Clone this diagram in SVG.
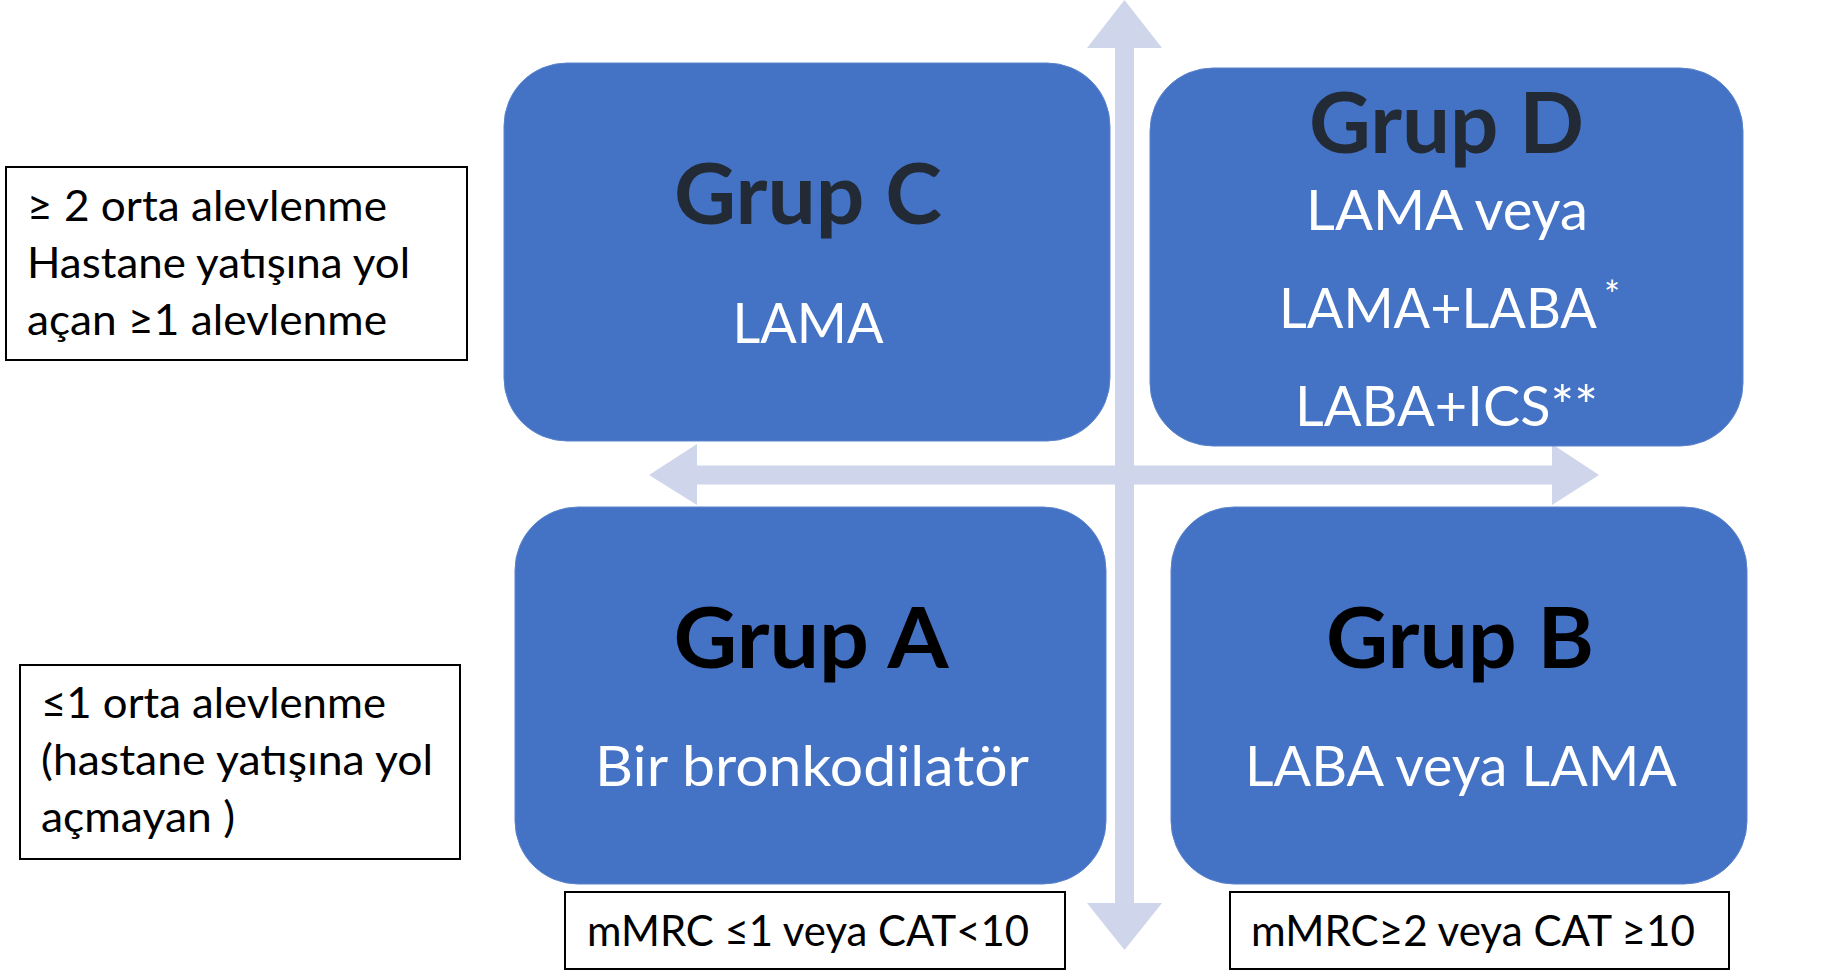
<svg xmlns="http://www.w3.org/2000/svg" width="1825" height="971" viewBox="0 0 1825 971">
<style>
.box{fill:#4472C4;stroke:#5b83cc;stroke-width:1}
.label{fill:#fff;stroke:#000;stroke-width:2}
.axis{fill:#CFD5EA}
.title{font-family:Lato,"Liberation Sans",sans-serif;font-weight:bold;font-size:85px;text-anchor:middle}
.dark{fill:#222A35}
.black{fill:#000}
.sub{font-family:Lato,"Liberation Sans",sans-serif;font-size:56px;fill:#fff;text-anchor:middle}
.small{font-family:Lato,"Liberation Sans",sans-serif;font-size:43px;fill:#000}
</style>
<rect width="1825" height="971" fill="#fff"/>
<g id="connectors">
<polygon class="axis" points="1124.5,0 1162,48 1134,48 1134,903 1162,903 1124.5,950 1087,903 1115,903 1115,48 1087,48"/>
<polygon class="axis" points="649,475 697,444 697,465.5 1552,465.5 1552,444 1599,475 1552,505 1552,484.5 697,484.5 697,505"/>
</g>
<g id="grupC">
<rect class="box" x="504" y="63" width="606" height="378" rx="63" ry="63"/>
<text class="title dark" x="808" y="224" textLength="268" lengthAdjust="spacingAndGlyphs">Grup C</text>
<text class="sub" x="808" y="343" textLength="151" lengthAdjust="spacingAndGlyphs">LAMA</text>
</g>
<g id="grupD">
<rect class="box" x="1150" y="68" width="593" height="378" rx="63" ry="63"/>
<text class="title dark" x="1446.5" y="153" textLength="275" lengthAdjust="spacingAndGlyphs">Grup D</text>
<text class="sub" x="1447" y="230" textLength="282" lengthAdjust="spacingAndGlyphs">LAMA veya</text>
<text class="sub" x="1279" y="328" style="text-anchor:start" textLength="318" lengthAdjust="spacingAndGlyphs">LAMA+LABA</text>
<text class="sub" x="1604" y="309" style="text-anchor:start;font-size:38px">*</text>
<text class="sub" x="1446.5" y="426" textLength="303" lengthAdjust="spacingAndGlyphs">LABA+ICS**</text>
</g>
<g id="grupA">
<rect class="box" x="515" y="507" width="591" height="377" rx="63" ry="63"/>
<text class="title black" x="811" y="668" textLength="275" lengthAdjust="spacingAndGlyphs">Grup A</text>
<text class="sub" x="812" y="786" textLength="434" lengthAdjust="spacingAndGlyphs">Bir bronkodilatör</text>
</g>
<g id="grupB">
<rect class="box" x="1171" y="507" width="576" height="377" rx="63" ry="63"/>
<text class="title black" x="1460" y="668" textLength="268" lengthAdjust="spacingAndGlyphs">Grup B</text>
<text class="sub" x="1461" y="786" textLength="432" lengthAdjust="spacingAndGlyphs">LABA veya LAMA</text>
</g>
<g id="exacHigh">
<rect class="label" x="6" y="167" width="461" height="193"/>
<text class="small" x="27" y="221" textLength="360" lengthAdjust="spacingAndGlyphs">≥ 2 orta alevlenme</text>
<text class="small" x="27" y="278" textLength="383" lengthAdjust="spacingAndGlyphs">Hastane yatışına yol</text>
<text class="small" x="27" y="335" textLength="360" lengthAdjust="spacingAndGlyphs">açan ≥1 alevlenme</text>
</g>
<g id="exacLow">
<rect class="label" x="20" y="665" width="440" height="194"/>
<text class="small" x="41" y="718" textLength="345" lengthAdjust="spacingAndGlyphs">≤1 orta alevlenme</text>
<text class="small" x="41" y="775" textLength="392" lengthAdjust="spacingAndGlyphs">(hastane yatışına yol</text>
<text class="small" x="41" y="832" textLength="194" lengthAdjust="spacingAndGlyphs">açmayan )</text>
</g>
<g id="symptomLow">
<rect class="label" x="565" y="892" width="500" height="77"/>
<text class="small" x="587" y="946" textLength="442" lengthAdjust="spacingAndGlyphs">mMRC ≤1 veya CAT&lt;10</text>
</g>
<g id="symptomHigh">
<rect class="label" x="1230" y="892" width="499" height="77"/>
<text class="small" x="1251" y="946" textLength="444" lengthAdjust="spacingAndGlyphs">mMRC≥2 veya CAT ≥10</text>
</g>
</svg>
